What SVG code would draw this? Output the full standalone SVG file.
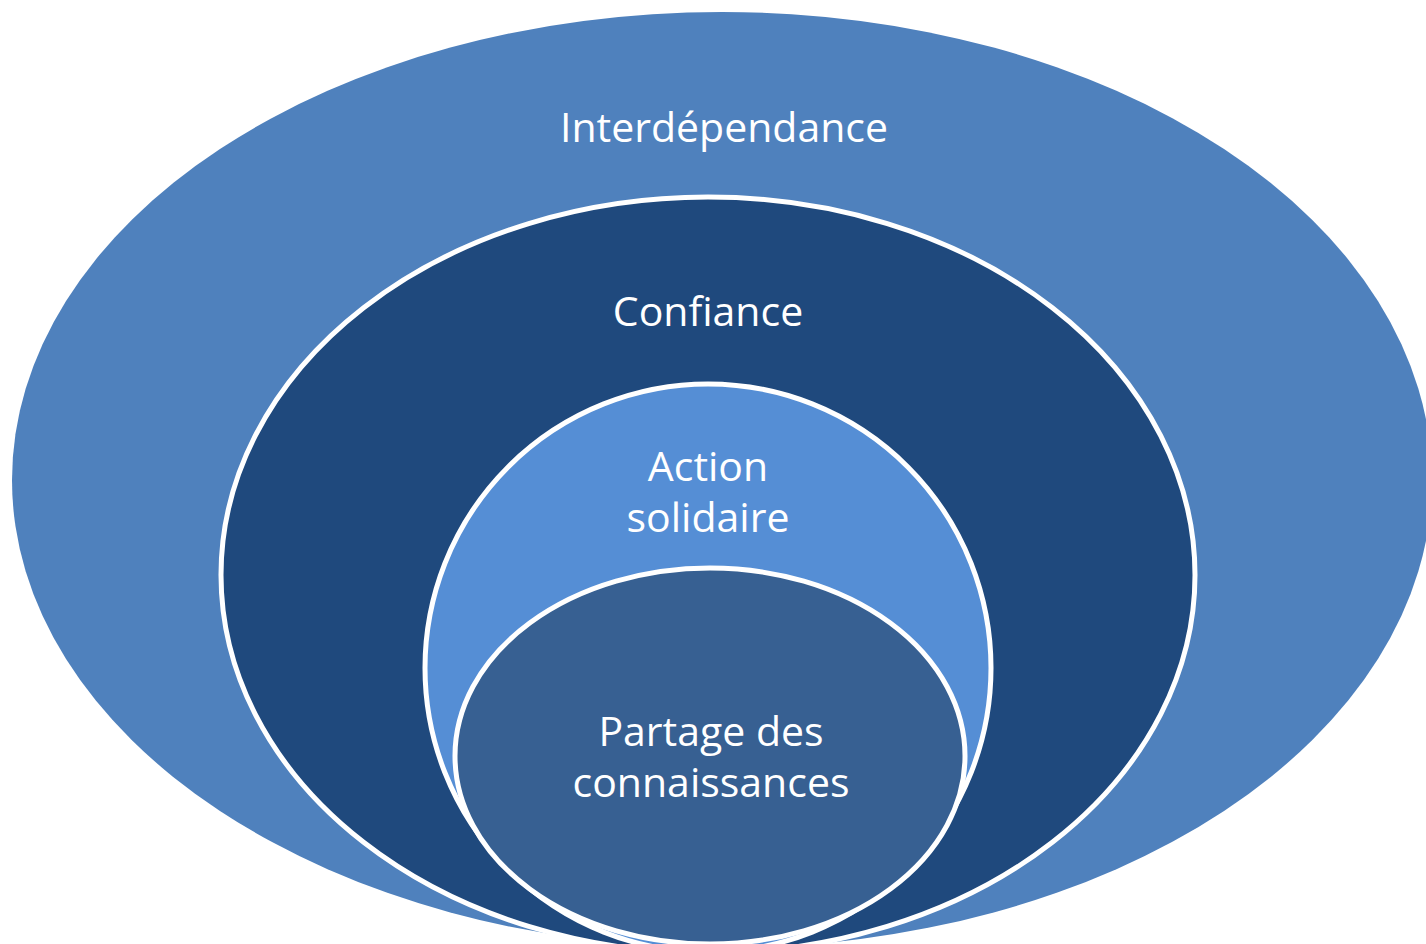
<svg xmlns="http://www.w3.org/2000/svg" width="1426" height="944" viewBox="0 0 1426 944">
<style>
.lbl{font-family:"Open Sans","Noto Sans","Liberation Sans",sans-serif;font-size:41px;fill:#ffffff;text-anchor:middle}
.ring{stroke:#ffffff;stroke-width:5}
</style>
<rect width="1426" height="944" fill="#ffffff"/>
<g id="interdependance">
<ellipse cx="722" cy="480" rx="710" ry="468" fill="#4F81BD"/>
<text class="lbl" x="724" y="142">Interdépendance</text>
</g>
<g id="confiance">
<ellipse class="ring" cx="708" cy="575" rx="487" ry="378" fill="#1F497D"/>
<text class="lbl" x="708" y="326">Confiance</text>
</g>
<g id="action-solidaire">
<ellipse class="ring" cx="708" cy="668" rx="283" ry="284" fill="#558ED5"/>
<text class="lbl" x="708" y="481">Action</text>
<text class="lbl" x="708" y="532">solidaire</text>
</g>
<g id="partage">
<ellipse class="ring" cx="710" cy="756" rx="255" ry="188" fill="#376092"/>
<text class="lbl" x="711" y="746">Partage des</text>
<text class="lbl" x="711" y="797">connaissances</text>
</g>
<g id="connectors"/>
</svg>
